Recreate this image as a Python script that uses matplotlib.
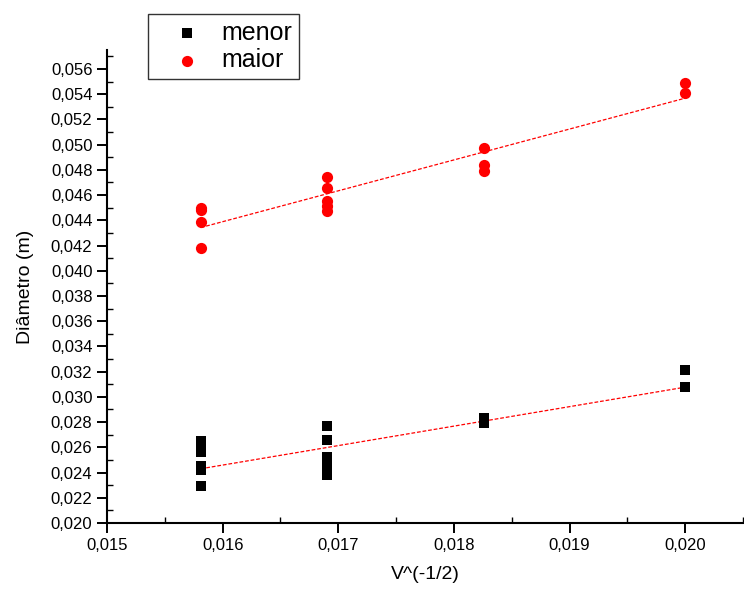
import numpy as np
import matplotlib

matplotlib.use("Agg")
import matplotlib.pyplot as plt  # noqa: E402
from matplotlib.ticker import MultipleLocator, FuncFormatter  # noqa: E402

plt.rcParams["font.family"] = ["Liberation Sans", "DejaVu Sans"]

# V^(-1/2) values for each point
x_menor = [0.01581] * 6 + [0.01690] * 7 + [0.01826] * 2 + [0.02000] * 2
y_menor = [0.0229, 0.0242, 0.0245, 0.0256, 0.0260, 0.0265,
           0.0238, 0.0241, 0.0244, 0.0248, 0.0252, 0.0266, 0.0277,
           0.0279, 0.0283,
           0.0308, 0.0321]

x_maior = [0.01581] * 4 + [0.01690] * 5 + [0.01826] * 3 + [0.02000] * 2
y_maior = [0.0418, 0.0439, 0.0448, 0.0450,
           0.0447, 0.0451, 0.0455, 0.0466, 0.0474,
           0.0479, 0.0484, 0.0497,
           0.0541, 0.0549]

fig = plt.figure(figsize=(7.44, 5.94), dpi=100)
ax = fig.add_axes([0.1438, 0.1195, 0.855, 0.7963])

ax.scatter(x_menor, y_menor, marker="s", s=60, c="black", linewidths=0, label="menor", zorder=3)
ax.scatter(x_maior, y_maior, marker="o", s=65, c="red", linewidths=0, label="maior", zorder=3)

# linear fits
for xs, ys in ((x_menor, y_menor), (x_maior, y_maior)):
    k, b = np.polyfit(xs, ys, 1)
    xf = np.array([min(xs), max(xs)])
    ax.plot(xf, k * xf + b, "--", c="red", lw=0.9, dashes=(3, 1.5), zorder=2)

ax.set_xlim(0.015, 0.0205)
ax.set_ylim(0.020, 0.0575)
ax.xaxis.set_major_locator(MultipleLocator(0.001))
ax.xaxis.set_minor_locator(MultipleLocator(0.0005))
ax.yaxis.set_major_locator(MultipleLocator(0.002))
ax.yaxis.set_minor_locator(MultipleLocator(0.001))
comma = FuncFormatter(lambda v, p: f"{v:.3f}".replace(".", ","))
ax.xaxis.set_major_formatter(comma)
ax.yaxis.set_major_formatter(comma)

for s in ("top", "right"):
    ax.spines[s].set_visible(False)
for s in ("left", "bottom"):
    ax.spines[s].set_linewidth(1.5)
ax.tick_params(which="major", direction="out", length=7, width=1.4, labelsize=12)
ax.tick_params(which="minor", direction="in", length=4, width=1.0)

ax.set_xlabel("V^(-1/2)", fontsize=14, labelpad=10)
ax.set_ylabel("Diâmetro (m)", fontsize=14, labelpad=12)

leg = fig.legend(loc="upper left", bbox_to_anchor=(0.199, 0.976), fontsize=18,
                 frameon=True, fancybox=False, edgecolor="black", markerscale=1.0,
                 handlelength=2.6, handletextpad=0.1, borderpad=0.25,
                 labelspacing=0.15, borderaxespad=0)
leg.get_frame().set_linewidth(1.0)

fig.savefig("out.png", dpi=100)
plt.close(fig)
